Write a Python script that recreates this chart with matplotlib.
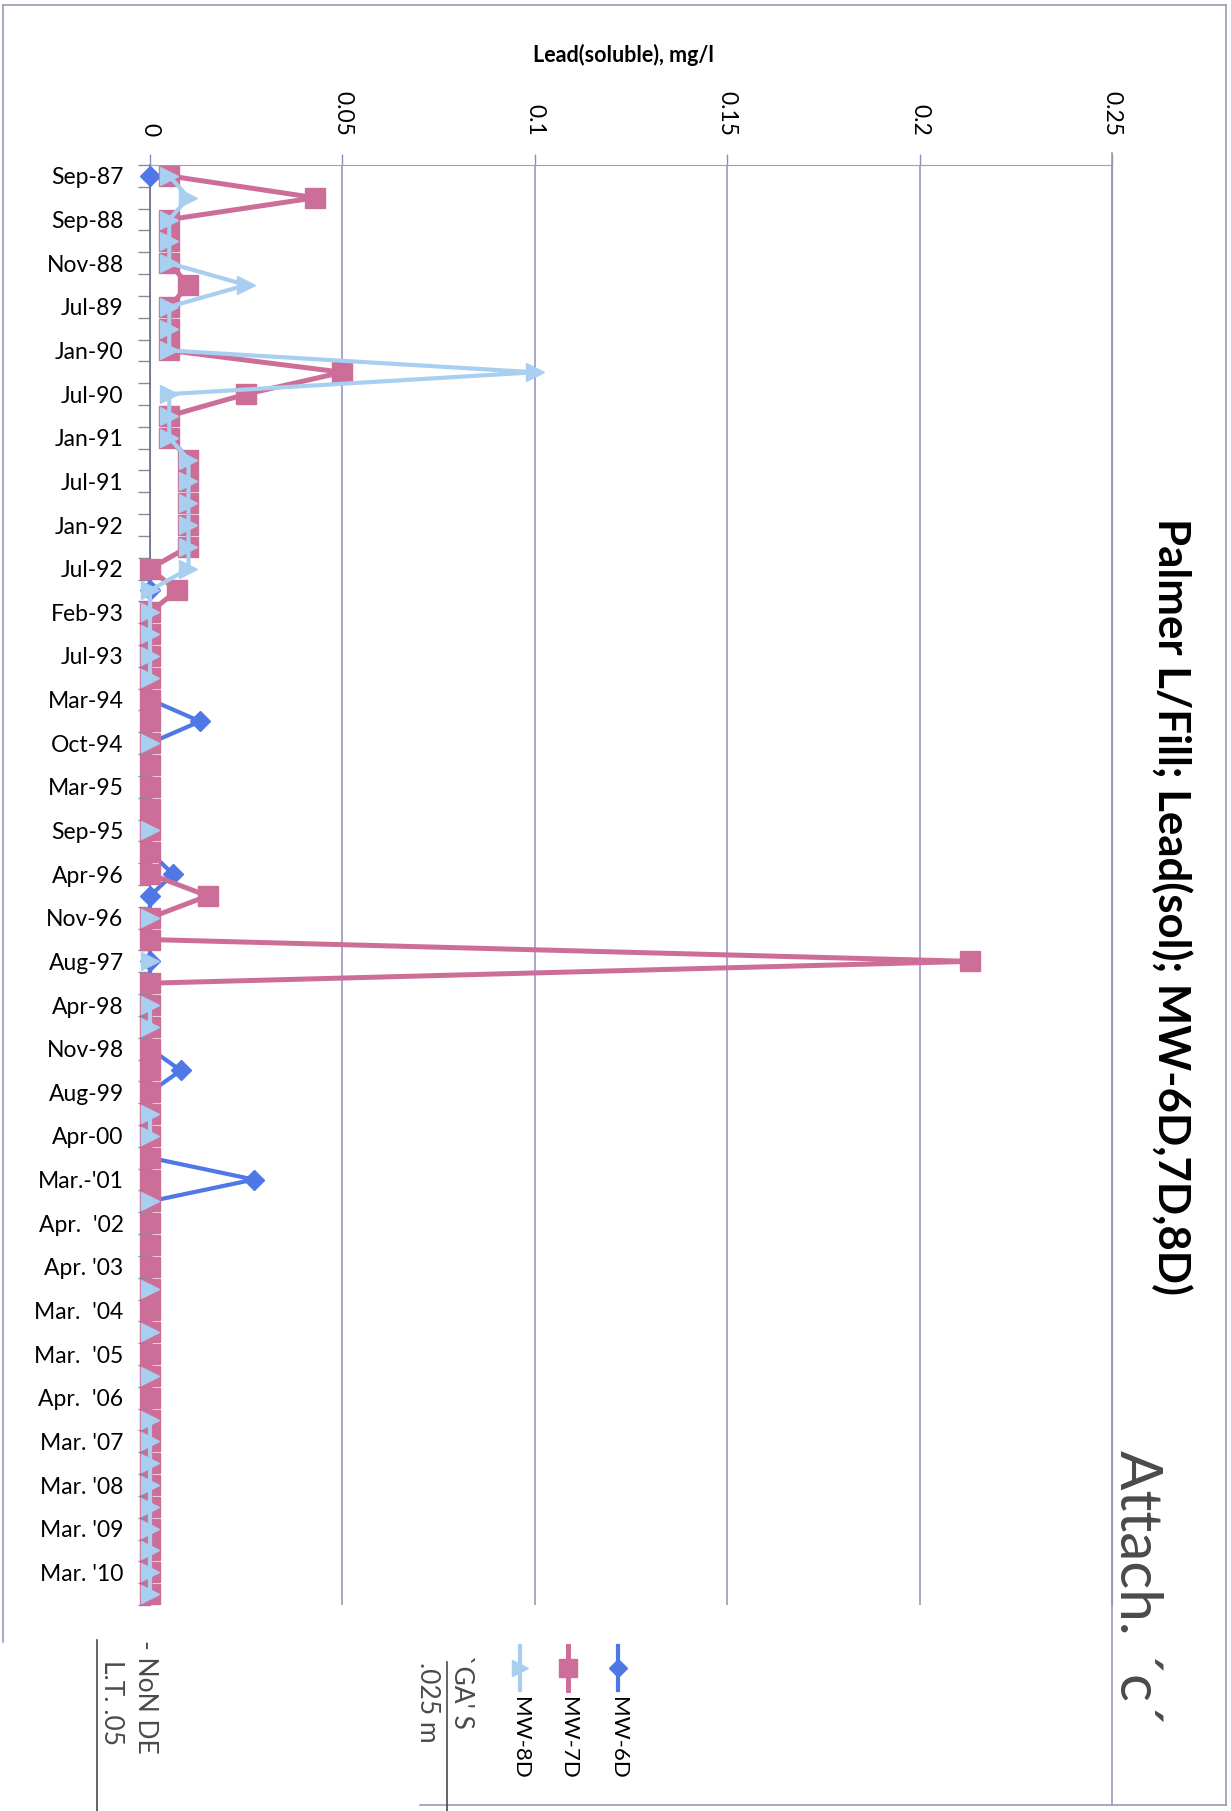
import numpy as np
import matplotlib
matplotlib.use("Agg")
import matplotlib.pyplot as plt
from matplotlib.lines import Line2D

plt.rcParams['font.family'] = ['Lato', 'DejaVu Sans']

nan = np.nan

# sampling dates shown on the category axis (every second sample is labelled)
date_labels = ["Sep-87", "Sep-88", "Nov-88", "Jul-89", "Jan-90", "Jul-90", "Jan-91",
               "Jul-91", "Jan-92", "Jul-92", "Feb-93", "Jul-93", "Mar-94", "Oct-94",
               "Mar-95", "Sep-95", "Apr-96", "Nov-96", "Aug-97", "Apr-98", "Nov-98",
               "Aug-99", "Apr-00", "Mar.-'01", "Apr.  '02", "Apr. '03", "Mar.  '04",
               "Mar.  '05", "Apr.  '06", "Mar. '07", "Mar. '08", "Mar. '09", "Mar. '10"]
n_samples = 66

# lead (soluble), mg/l per sample
mw6d = [0, nan, nan, nan, nan, nan, nan, nan, nan, nan,
        nan, .005, .005, .01, .01, .01, .01, .01, 0, 0,
        0, 0, 0, 0, 0, .013, 0, 0, 0, 0,
        0, 0, .006, 0, 0, 0, 0, 0, 0, 0,
        0, .008, 0, 0, 0, 0, .027, 0, 0, 0,
        0, 0, 0, 0, 0, 0, 0, 0, 0, 0,
        0, 0, 0, 0, 0, 0]
mw7d = [.005, .043, .005, .005, .005, .01, .005, .005, .005, .05,
        .025, .005, .005, .01, .01, .01, .01, .01, 0, .007,
        0, 0, 0, 0, 0, 0, 0, 0, 0, 0,
        0, 0, 0, .015, 0, 0, .213, 0, 0, 0,
        0, 0, 0, 0, 0, 0, 0, 0, 0, 0,
        0, 0, 0, 0, 0, 0, 0, 0, 0, 0,
        0, 0, 0, 0, 0, 0]
mw8d = [.005, .01, .005, .005, .005, .025, .005, .005, .005, .1,
        .005, .005, .005, .01, .01, .01, .01, .01, .01, 0,
        0, 0, 0, 0, nan, nan, 0, nan, nan, nan,
        0, nan, nan, nan, 0, nan, 0, nan, 0, 0,
        nan, nan, nan, 0, 0, nan, nan, 0, nan, nan,
        nan, 0, nan, 0, nan, 0, nan, 0, 0, 0,
        0, 0, 0, 0, 0, 0]

value_ticks = [0, 0.05, 0.1, 0.15, 0.2, 0.25]
value_tick_labels = ["0", "0.05", "0.1", "0.15", "0.2", "0.25"]

series = [("MW-6D", mw6d, '#4f77e6', 'D', 10, 3.0),
          ("MW-7D", mw7d, '#cc6e98', 's', 14, 3.6),
          ("MW-8D", mw8d, '#a8cff0', '>', 13, 3.0)]

W, H = 1231, 1811
fig = plt.figure(figsize=(W / 100, H / 100), dpi=100)
fig.patch.set_facecolor('white')

def fx(px):
    return px / W

def fy(py):
    return 1 - py / H

ax = fig.add_axes([fx(150), fy(1605), fx(1112) - fx(150), fy(165) - fy(1605)])

cats = np.arange(n_samples)
for name, vals, col, mk, ms, lw in series:
    ax.plot(vals, cats, color=col, lw=lw, marker=mk, ms=ms, mfc=col, mec=col,
            clip_on=False, zorder=3)

grid_col = '#8e8ebe'
ax.set_xlim(0, 0.25)
ax.set_ylim(n_samples - 0.5, -0.5)

ax.xaxis.tick_top()
ax.set_xticks(value_ticks)
ax.set_xticklabels(value_tick_labels, rotation=-90, fontsize=16.5)
ax.tick_params(axis='x', direction='out', length=8, width=1, color=grid_col, pad=13)
ax.grid(axis='x', color=grid_col, lw=1.1)
ax.set_axisbelow(True)

# tick marks between samples, labels on every second sample
ax.set_yticks(np.arange(-0.5, n_samples, 1))
ax.set_yticklabels([])
ax.set_yticks(np.arange(0, n_samples, 2), minor=True)
ax.set_yticklabels(date_labels, minor=True, fontsize=16.5)
ax.tick_params(axis='y', which='major', direction='out', length=9, width=1, color='#8a8aa0')
ax.tick_params(axis='y', which='minor', length=0, pad=19)

ax.spines['left'].set_color('#6a6a8a')
ax.spines['left'].set_linewidth(1.2)
ax.spines['top'].set_color('#a0a0b0')
ax.spines['right'].set_color(grid_col)
ax.spines['bottom'].set_visible(False)

fig.text(fx(623), fy(55), "Lead(soluble), mg/l", ha='center', va='center',
         fontsize=15.5, fontweight='bold')
fig.text(fx(1172), fy(906), "Palmer L/Fill; Lead(sol); MW-6D,7D,8D)", rotation=-90,
         ha='center', va='center', fontsize=31.5, fontweight='bold')

# legend, turned with the chart
for (name, vals, col, mk, ms, lw), x in zip(series, [618, 568, 520]):
    fig.add_artist(Line2D([fx(x), fx(x)], [fy(1646), fy(1690)], color=col, lw=lw,
                          transform=fig.transFigure))
    fig.add_artist(Line2D([fx(x)], [fy(1668)], color=col, marker=mk, ms=ms * 0.9,
                          mfc=col, mec=col, transform=fig.transFigure))
    fig.text(fx(x), fy(1697), name, rotation=-90, ha='center', va='top', fontsize=16)

# chart frame
frame_col = '#9a9ab8'
for xs, ys in [([3, 1226], [5, 5]), ([3, 3], [5, 1642]), ([1226, 1226], [5, 1805]),
               ([420, 1226], [1805, 1805]), ([1112, 1112], [153, 1805])]:
    fig.add_artist(Line2D([fx(v) for v in xs], [fy(v) for v in ys], color=frame_col,
                          lw=1.2, transform=fig.transFigure))

# hand-written notes
ink = '#4a4a4a'
hand = dict(rotation=-90, ha='center', va='top', color=ink, fontweight='normal')
fig.text(fx(1137), fy(1450), "Attach. \u00b4c\u00b4", fontsize=42, **hand)
fig.text(fx(462), fy(1655), "`GA' S", fontsize=19, **hand)
fig.text(fx(428), fy(1662), ".025 m", fontsize=19, **hand)
fig.text(fx(145), fy(1640), "- NoN DE", fontsize=19, **hand)
fig.text(fx(112), fy(1660), "L.T. .05", fontsize=19, **hand)
for x, y0 in [(447, 1662), (97, 1640)]:
    fig.add_artist(Line2D([fx(x), fx(x)], [fy(y0), fy(1811)], color=ink, lw=1.2,
                          transform=fig.transFigure))

fig.savefig("out.png", dpi=100)
